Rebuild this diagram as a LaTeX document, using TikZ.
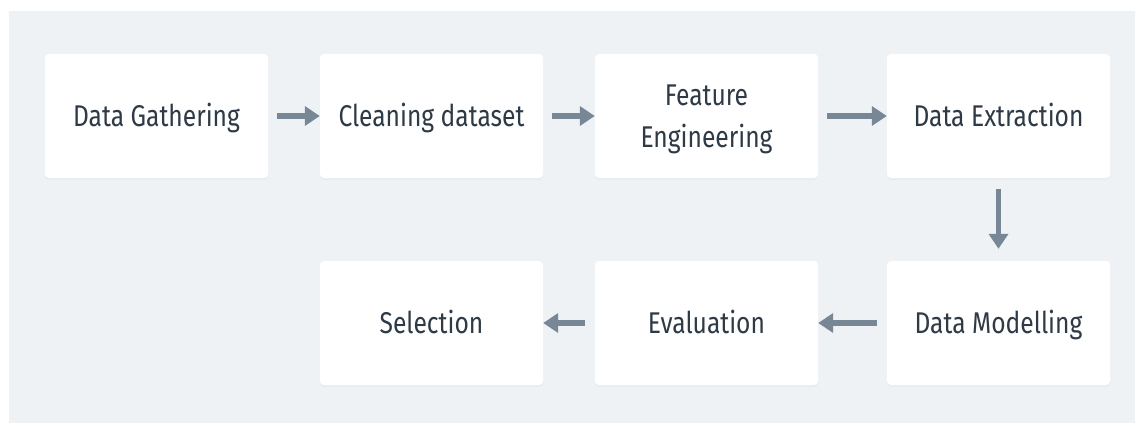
\documentclass[tikz,border=0pt]{standalone}
\usepackage{fontspec}
\setmainfont{Fira Sans}[FakeStretch=0.82]
\usetikzlibrary{arrows.meta,shadows}
\definecolor{panelbg}{RGB}{239,242,245}
\definecolor{inkdark}{RGB}{46,58,70}
\definecolor{arrowgray}{RGB}{120,135,150}
\tikzset{
  stage/.style={draw=none, fill=white, rounded corners=4pt,
    minimum width=223pt, minimum height=124pt, inner sep=0pt,
    text=inkdark, align=center,
    text height=20.5pt, text depth=0pt,
    font=\fontsize{30}{42}\selectfont,
    drop shadow={shadow xshift=0pt, shadow yshift=-2pt, opacity=0.05}},
  twoline/.style={text height=62.5pt},
  flow/.style={draw=arrowgray, line width=5.5pt,
    -{Triangle[width=19pt,length=15pt]}}
}
\begin{document}
\begin{tikzpicture}[x=1pt,y=-1pt]
  \useasboundingbox (0,0) rectangle (1135,423);
  \fill[white] (0,0) rectangle (1135,423);
  \fill[panelbg] (9,11) rectangle (1135,423);

  % top row
  \node[stage] (gather)  at (156.5,116) {Data Gathering};
  \node[stage] (clean)   at (431.5,116) {Cleaning dataset};
  \node[stage, twoline] (feature) at (706.5,116) {Feature\\Engineering};
  \node[stage] (extract) at (998.5,116) {Data Extraction};
  % bottom row
  \node[stage] (select)  at (431.5,323) {Selection};
  \node[stage] (eval)    at (706.5,323) {Evaluation};
  \node[stage] (model)   at (998.5,323) {Data Modelling};

  % connectors
  \draw[flow, shorten <=9pt] (gather) -- (clean);
  \draw[flow, shorten <=9pt] (clean) -- (feature);
  \draw[flow, shorten <=9pt] (feature) -- (extract);
  \draw[flow, shorten <=11pt, shorten >=12pt] (extract) -- (model);
  \draw[flow, shorten <=10pt] (model) -- (eval);
  \draw[flow, shorten <=10pt] (eval) -- (select);
\end{tikzpicture}
\end{document}
